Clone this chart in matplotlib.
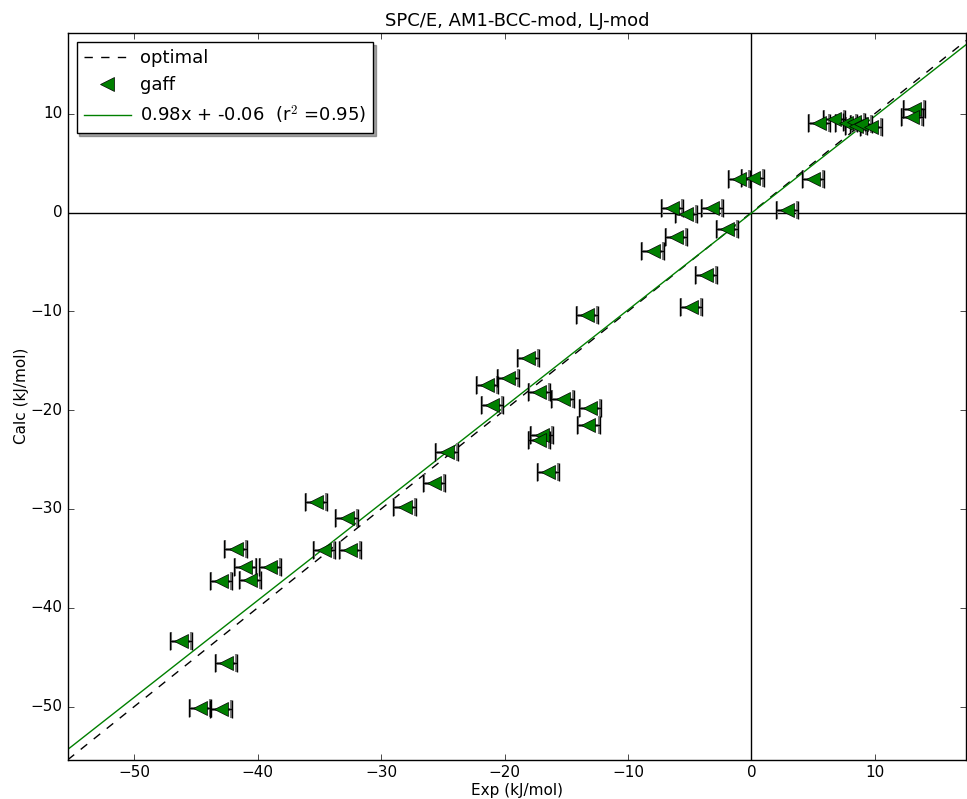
import numpy as np
import matplotlib.pyplot as plt

exp = [-46.2, -42.6, -44.7, -43.0, -43.0, -41.8, -41.0, -40.6, -39.0, -35.3,
       -32.5, -32.8, -34.6, -28.1, -25.7, -24.7, -21.4, -21.0, -19.7, -18.1,
       -17.2, -17.0, -17.2, -16.5, -15.3, -13.1, -13.2, -13.3, -8.0, -6.1,
       -6.4, -5.3, -3.2, -3.7, -4.9, -2.0, -1.0, 0.1, 5.0, 2.9,
       5.5, 6.7, 7.7, 8.3, 8.5, 8.9, 9.7, 13.2, 13.0]
calc = [-43.4, -45.6, -50.2, -50.3, -37.3, -34.1, -35.9, -37.2, -35.9, -29.3,
        -34.2, -30.9, -34.2, -29.8, -27.4, -24.2, -17.5, -19.5, -16.7, -14.7,
        -18.2, -22.5, -23.0, -26.3, -18.9, -19.8, -21.5, -10.4, -3.9, -2.5,
        0.5, -0.1, 0.5, -6.3, -9.6, -1.7, 3.4, 3.5, 3.4, 0.3,
        9.1, 9.5, 9.1, 9.2, 8.8, 9.0, 8.7, 10.5, 9.7]
err_grey = 0.82
err_black = 0.9
slope, intercept, r2 = 0.98, -0.06, 0.95

plt.style.use('classic')
fig = plt.figure(figsize=(9.67, 7.99), dpi=100)
ax = fig.add_axes([0.070, 0.049, 0.929, 0.910])

xlim = (-55.4, 17.4)
ax.axhline(0, color='black', lw=1)
ax.axvline(0, color='black', lw=1)

xx = np.array(xlim)
opt, = ax.plot(xx, xx, 'k--', lw=1)
ax.errorbar(exp, calc, xerr=err_grey, fmt='none', ecolor='grey',
            capsize=6.5, elinewidth=2, capthick=1.5, zorder=3)
ax.errorbar(exp, calc, xerr=err_black, fmt='none', ecolor='black',
            capsize=6.5, elinewidth=1, capthick=1, zorder=3)
pts, = ax.plot(exp, calc, '<', color='green', mec='black', ms=9.5,
               ls='none', zorder=4)
fit, = ax.plot(xx, slope * xx + intercept, color='green', lw=1)

ax.set_xlim(xlim)
ax.set_ylim(-55.4, 18.2)
ax.set_xticks([-50, -40, -30, -20, -10, 0, 10])
ax.set_yticks([-50, -40, -30, -20, -10, 0, 10])
ax.tick_params(labelsize=11)
ax.set_title('SPC/E, AM1-BCC-mod, LJ-mod', fontsize=13)
ax.set_xlabel('Exp (kJ/mol)', fontsize=11, labelpad=2)
ax.set_ylabel('Calc (kJ/mol)', fontsize=11, labelpad=1)

ax.legend((opt, pts, fit),
          ('optimal', 'gaff', '%.2fx + %.2f  (r$^2$ =%.2f)' % (slope, intercept, r2)),
          loc=2, shadow=True, fancybox=False, numpoints=1, fontsize=13,
          handlelength=2.6, handletextpad=0.5)

fig.savefig('out.png', dpi=100)
